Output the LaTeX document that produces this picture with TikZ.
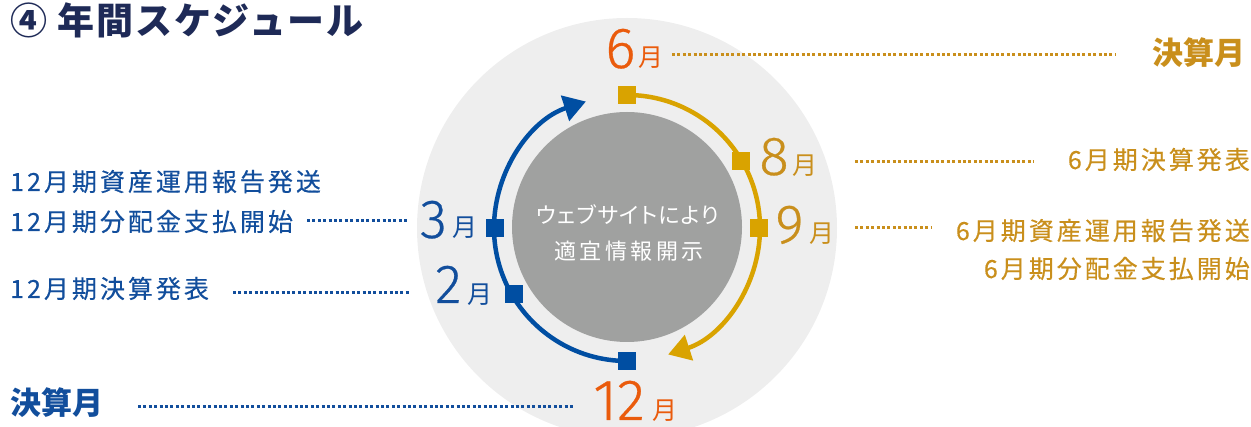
\documentclass[tikz,border=0pt]{standalone}
\usepackage{fontspec}
\usetikzlibrary{arrows.meta}
\setmainfont{Noto Sans CJK JP}
\newfontfamily\jpsp{Noto Sans CJK JP}[LetterSpace=12,FakeBold=0.3]
\newfontfamily\jpc{Noto Sans CJK JP}[LetterSpace=16]
\newfontfamily\jpk{Noto Sans CJK JP}[LetterSpace=6,RawFeature=+palt]
\newfontfamily\jptitle{Noto Sans CJK JP}[LetterSpace=5]
\newfontfamily\jpbig{Noto Sans CJK JP}
\newfontfamily\dig{Fira Sans Light}[FakeBold=0.5]
\definecolor{navy}{HTML}{1E2A57}
\definecolor{tblue}{HTML}{124E9C}
\definecolor{ablue}{HTML}{004EA2}
\definecolor{tgold}{HTML}{C98F1C}
\definecolor{ayel}{HTML}{D9A300}
\definecolor{orng}{HTML}{EA5B0C}
\definecolor{lgray}{HTML}{EEEEEE}
\definecolor{dgray}{HTML}{A0A1A0}
\tikzset{
  lbl/.style={inner sep=0pt, font=\jpsp\fontsize{25}{25}\selectfont},
  bigdig/.style={inner sep=0pt, anchor=base west, text depth=0pt, font=\dig\fontsize{55}{55}\selectfont},
  odig/.style={inner sep=0pt, anchor=base west, text depth=0pt, font=\dig\fontsize{58}{58}\selectfont},
  tsuki/.style={inner sep=0pt, anchor=base west, text depth=1pt, font=\jpbig\fontsize{25}{25}\selectfont},
  kessan/.style={inner sep=0pt, font=\jpbig\bfseries\fontsize{31}{31}\selectfont},
  gdot/.style={draw=tgold, line width=3pt, dash pattern=on 3pt off 2.4pt},
  bdot/.style={draw=tblue, line width=3pt, dash pattern=on 3pt off 2.4pt},
  marker/.style={inner sep=0pt, minimum size=18pt, draw=none},
  ring/.style={line width=4.5pt},
}
\begin{document}
\begin{tikzpicture}[x=1pt,y=-1pt]
\useasboundingbox (0,0) rectangle (1251,427);
% circles
\fill[lgray] (627,228) circle[radius=210];
\fill[dgray] (627,227) circle[radius=115];
% markers
\node[marker, fill=ayel] (s6) at (627,95) {};
\node[marker, fill=ayel] (s8) at (741,161) {};
\node[marker, fill=ayel] (s9) at (759,228) {};
\node[marker, fill=ablue] (s12) at (627,361) {};
\node[marker, fill=ablue] (s2) at (514,294) {};
\node[marker, fill=ablue] (s3) at (495,228) {};
% arcs
\draw[ring, ayel, -{Triangle[length=22pt,width=26pt]}] (s6.center) arc[start angle=-90, end angle=72, radius=133];
\draw[ring, ablue, -{Triangle[length=22pt,width=26pt]}] (s12.center) arc[start angle=-270, end angle=-108, radius=133];
% redraw markers on top
\fill[ayel] (s6.south west) rectangle (s6.north east);
\fill[ayel] (s8.south west) rectangle (s8.north east);
\fill[ayel] (s9.south west) rectangle (s9.north east);
\fill[ablue] (s12.south west) rectangle (s12.north east);
\fill[ablue] (s2.south west) rectangle (s2.north east);
\fill[ablue] (s3.south west) rectangle (s3.north east);
% center text
\node[inner sep=0pt, anchor=base, text=white, font=\jpk\fontsize{22}{22}\selectfont] (c1) at (628,224) {ウェブサイトにより};
\node[inner sep=0pt, anchor=base, text=white, font=\jpc\fontsize{22}{22}\selectfont] (c2) at (629,260) {適宜情報開示};
% title
\node[inner sep=0pt, anchor=base west, text=navy, font=\jptitle\bfseries\fontsize{37}{37}\selectfont] (title) at (10,35) {④ 年間スケジュール};
% month labels
\node[odig, text=orng] (m6) at (605,68) {6};
\node[tsuki, text=orng] (m6t) at (638.5,67) {月};
\node[odig, text=orng] (m12) at (593,420) {12};
\node[tsuki, text=orng] (m12t) at (652,420) {月};
\node[bigdig, text=tgold] (m8) at (759,175) {8};
\node[tsuki, text=tgold] (m8t) at (792,175) {月};
\node[bigdig, text=tgold] (m9) at (775,243) {9};
\node[tsuki, text=tgold] (m9t) at (809,243) {月};
\node[bigdig, text=tblue] (m3) at (420,238) {3};
\node[tsuki, text=tblue] (m3t) at (452.5,237) {月};
\node[bigdig, text=tblue] (m2) at (435,303) {2};
\node[tsuki, text=tblue] (m2t) at (467.5,304) {月};
% side labels
\node[kessan, anchor=base east, text=tgold] (k6) at (1246,65) {決算月};
\node[kessan, anchor=base west, text=tblue] (k12) at (10,415) {決算月};
\node[lbl, anchor=base east, text=tgold] (r1) at (1250,169) {6月期決算発表};
\node[lbl, anchor=base east, text=tgold] (r2) at (1250,240) {6月期資産運用報告発送};
\node[lbl, anchor=base east, text=tgold] (r3) at (1250,278) {6月期分配金支払開始};
\node[lbl, anchor=base west, text=tblue] (l1) at (10,191) {12月期資産運用報告発送};
\node[lbl, anchor=base west, text=tblue] (l2) at (10,231) {12月期分配金支払開始};
\node[lbl, anchor=base west, text=tblue] (l3) at (10,298) {12月期決算発表};
% dotted connectors
\coordinate (a1) at (672,55); \coordinate (a2) at (1116,55);
\coordinate (b1) at (855,162); \coordinate (b2) at (1034,162);
\coordinate (c1a) at (855,228); \coordinate (c2a) at (932,228);
\coordinate (d1) at (307,221); \coordinate (d2) at (409,221);
\coordinate (e1) at (233,293); \coordinate (e2) at (409,293);
\coordinate (f1) at (138,407); \coordinate (f2) at (573,407);
\draw[gdot] (a1) -- (a2);
\draw[gdot] (b1) -- (b2);
\draw[gdot] (c1a) -- (c2a);
\draw[bdot] (d1) -- (d2);
\draw[bdot] (e1) -- (e2);
\draw[bdot] (f1) -- (f2);
\end{tikzpicture}
\end{document}
